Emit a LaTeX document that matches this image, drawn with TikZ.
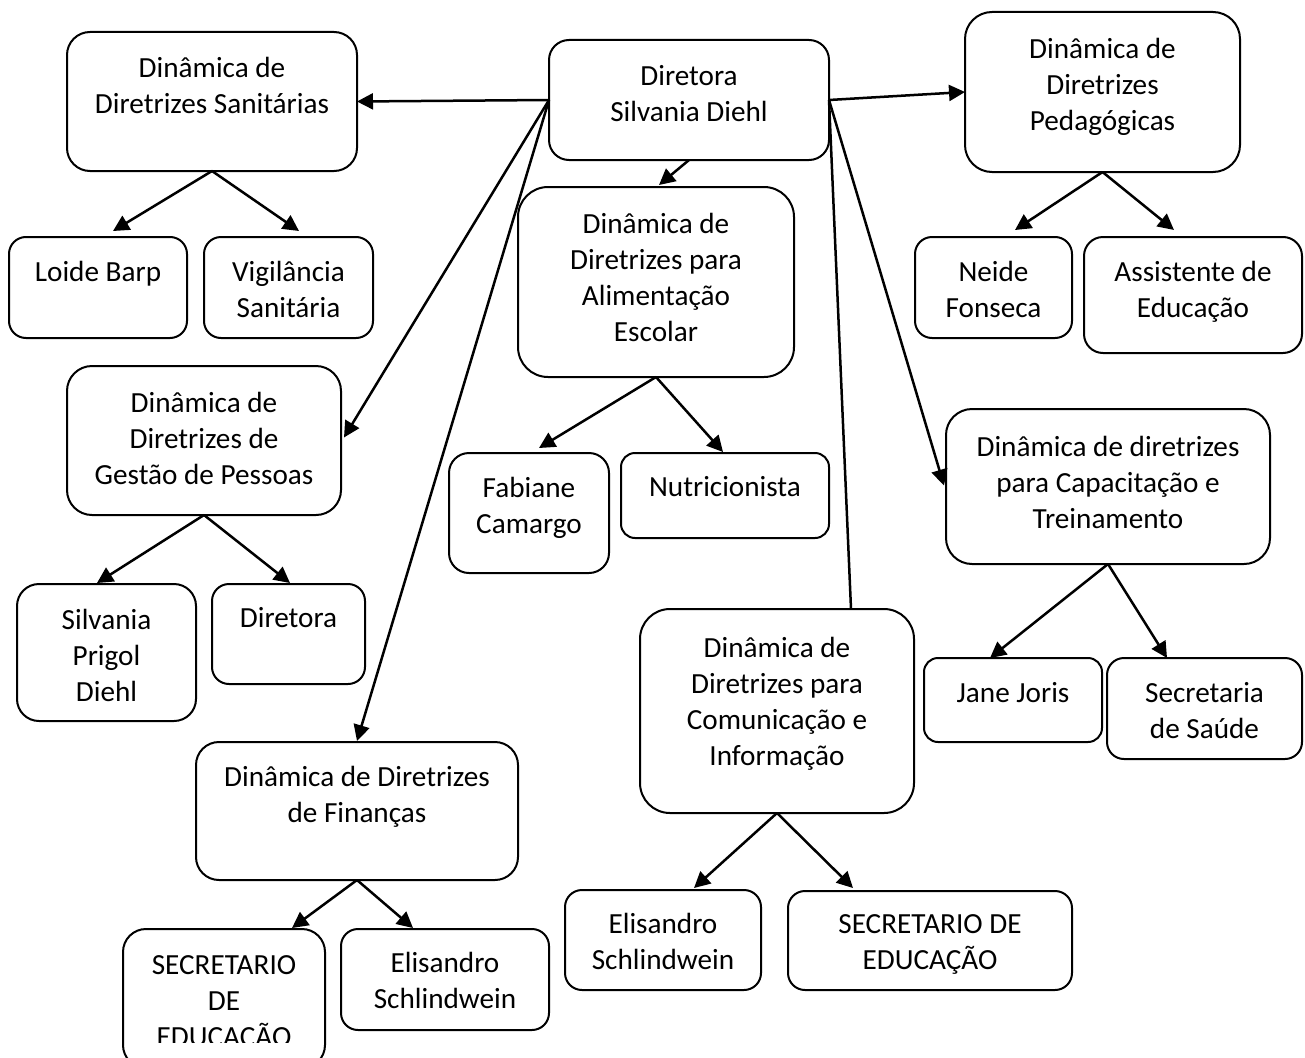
\documentclass[tikz,border=0pt]{standalone}
\usepackage{fontspec}
\setmainfont{Carlito}
\usetikzlibrary{arrows.meta,calc}
\newcommand{\bxt}[4][19]{\parbox[c][#3pt][t]{#2pt}{\centering\vspace*{#1pt}\strut#4\par}}
\tikzset{
  box/.style={draw, line width=2pt, inner sep=0pt, outer sep=0pt, anchor=north west,
              font=\fontsize{29.2}{36}\selectfont},
  arr/.style={line width=2.5pt, -{Triangle[length=16pt,width=16pt]}},
  link/.style={line width=2.5pt}
}
\begin{document}
\begin{tikzpicture}[x=1pt,y=-1pt]
\useasboundingbox (0,0) rectangle (1305,1057);
\fill[white] (0,0) rectangle (1305,1057);
\clip (0,0) rectangle (1305,1057);

% main boxes
\node[box, rounded corners=23pt] (san) at (67,32) {\bxt[20]{290}{139}{Dinâmica de\\Diretrizes Sanitárias}};
\node[box, rounded corners=20pt] (dir) at (549,40) {\bxt[20]{280}{120}{Diretora\\Silvania Diehl}};
\node[box, rounded corners=27pt] (ped) at (965,12) {\bxt[21]{275}{160}{Dinâmica de\\Diretrizes\\Pedagógicas}};
\node[box, rounded corners=30pt] (ali) at (518,187) {\bxt[21]{276}{190}{Dinâmica de\\Diretrizes para\\Alimentação\\Escolar}};
\node[box, rounded corners=25pt] (ges) at (67,366) {\bxt[21]{274}{149}{Dinâmica de\\Diretrizes de\\Gestão de Pessoas}};
\node[box, rounded corners=26pt] (cap) at (946,409) {\bxt[22]{324}{155}{Dinâmica de diretrizes\\para Capacitação e\\Treinamento}};
\node[box, rounded corners=30pt] (com) at (640,609) {\bxt[23]{274}{204}{Dinâmica de\\Diretrizes para\\Comunicação e\\Informação}};
\node[box, rounded corners=23pt] (fin) at (196,742) {\bxt[19]{322}{138}{Dinâmica de Diretrizes\\de Finanças}};

% leaf boxes
\node[box, rounded corners=17pt] (loide) at (9,237) {\bxt{178}{101}{Loide Barp}};
\node[box, rounded corners=17pt] (vig) at (204,237) {\bxt{169}{101}{Vigilância\\Sanitária}};
\node[box, rounded corners=17pt] (neide) at (915,237) {\bxt{157}{101}{Neide\\Fonseca}};
\node[box, rounded corners=19pt] (assist) at (1084,237) {\bxt{218}{116}{Assistente de\\Educação}};
\node[box, rounded corners=22pt] (silv) at (17,584) {\bxt[20]{179}{137}{Silvania\\Prigol\\Diehl}};
\node[box, rounded corners=17pt] (dirb) at (212,584) {\bxt[18]{153}{100}{Diretora}};
\node[box, rounded corners=20pt] (fab) at (449,453) {\bxt{160}{120}{Fabiane\\Camargo}};
\node[box, rounded corners=14pt] (nut) at (621,453) {\bxt[18]{208}{85}{Nutricionista}};
\node[box, rounded corners=14pt] (jane) at (924,658) {\bxt{178}{84}{Jane Joris}};
\node[box, rounded corners=17pt] (sec) at (1107,658) {\bxt{195}{101}{Secretaria\\de Saúde}};
\begin{scope}
  \clip (0,0) rectangle (1305,1042);
  \node[box, draw=none] (secr) at (123,929) {\bxt[20]{202}{139}{SECRETARIO\\DE\\EDUCAÇÃO}};
\end{scope}
\draw[line width=2pt, rounded corners=23pt] (secr.north west) rectangle (secr.south east);
\node[box, rounded corners=17pt] (eli) at (341,929) {\bxt[18]{208}{101}{Elisandro\\Schlindwein}};
\node[box, rounded corners=17pt] (elib) at (565,890) {\bxt[18]{196}{100}{Elisandro\\Schlindwein}};
\node[box, rounded corners=17pt] (secrb) at (788,891) {\bxt[17]{284}{99}{SECRETARIO DE\\EDUCAÇÃO}};

% connectors from Diretora
\draw[arr] (dir.west) -- (san.east);
\draw[arr] (dir.east) -- (ped.west);
\draw[arr] (dir.south) -- ($(ali.north)+(3,-2)$);
\draw[arr] (dir.west) -- ($(ges.east)+(3,-3)$);
\draw[arr] (dir.west) -- ($(fin.north)+(0,-1)$);
\draw[link] (dir.east) -- ($(com.north west)+(211,0)$);
\draw[arr] (dir.east) -- ($(cap.west)+(-2,-1)$);

% children
\draw[arr] (san.south) -- ($(loide.north)+(15,-6)$);
\draw[arr] (san.south) -- ($(vig.north)+(10.5,-6)$);
\draw[arr] (ped.south) -- ($(neide.north)+(21.5,-7)$);
\draw[arr] (ped.south) -- ($(assist.north)+(-19,-7)$);
\draw[arr] (ali.south) -- ($(fab.north)+(10,-5)$);
\draw[arr] (ali.south) -- ($(nut.north)+(-2,-1)$);
\draw[arr] (ges.south) -- ($(silv.north)+(-9.5,-1)$);
\draw[arr] (ges.south) -- ($(dirb.north)+(1.5,-1)$);
\draw[arr] (cap.south) -- ($(jane.north)+(-23,0)$);
\draw[arr] (cap.south) -- ($(sec.north)+(-37.5,0)$);
\draw[arr] (fin.south) -- ($(secr.north)+(68,-1)$);
\draw[arr] (fin.south) -- ($(eli.north)+(-32,-1)$);
\draw[arr] (com.south) -- ($(elib.north)+(31,-2)$);
\draw[arr] (com.south) -- ($(secrb.north)+(-77,-3)$);
\end{tikzpicture}
\end{document}
